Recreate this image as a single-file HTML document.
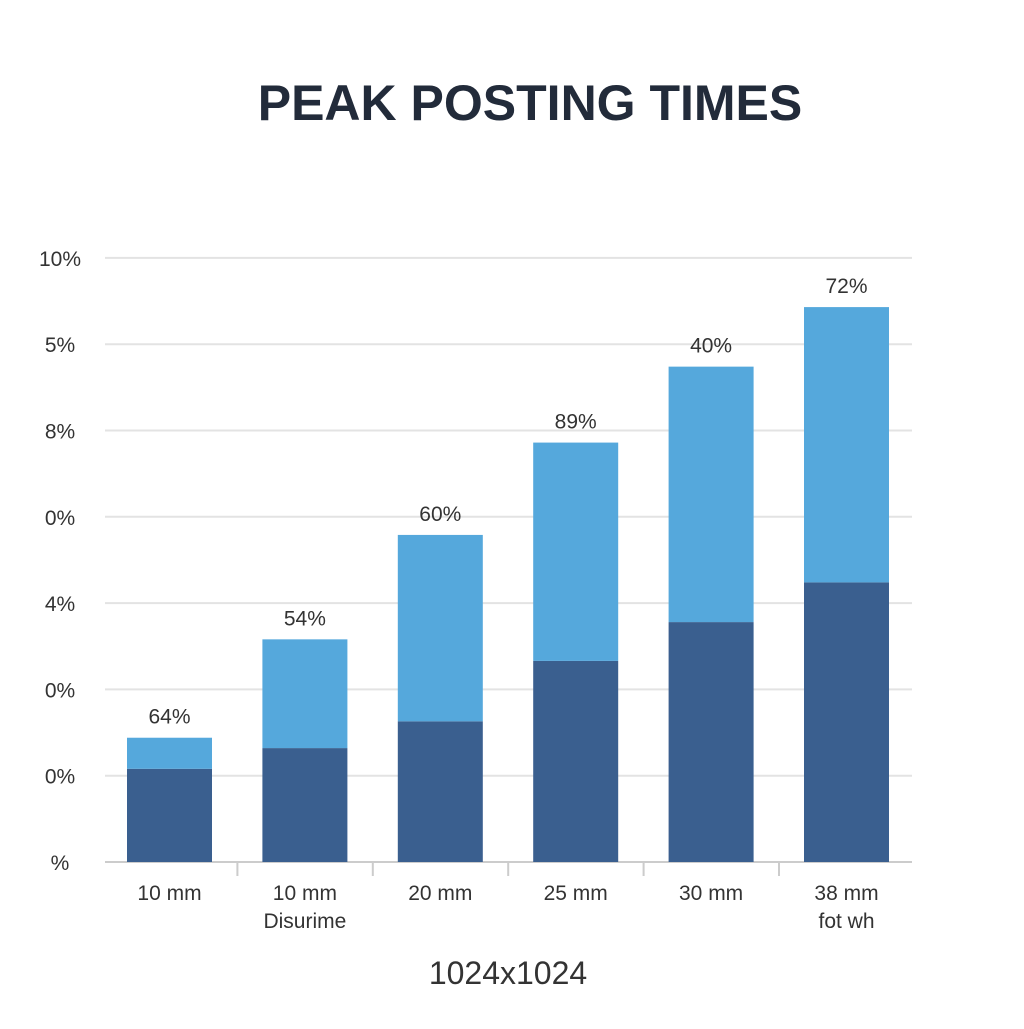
<!DOCTYPE html>
<html><head><meta charset="utf-8"><style>
body{margin:0;background:#fff;width:1024px;height:1024px;overflow:hidden;font-family:"Liberation Sans",sans-serif}
</style></head><body>
<svg width="1024" height="1024">
<text x="530" y="120" text-anchor="middle" font-size="50" font-weight="bold" fill="#222b3a">PEAK POSTING TIMES</text>
<g id="grid"></g><g id="bars"></g><g id="labels"></g>
<text x="508" y="984" text-anchor="middle" font-size="32" fill="#333">1024x1024</text>
</svg>
<script>
const categories=["10 mm","10 mm","20 mm","25 mm","30 mm","38 mm"];
const subLabels=["","Disurime","","","","fot wh"];
const bottomValues=[1.08,1.32,1.63,2.33,2.78,3.24];
const topValues=[0.36,1.26,2.16,2.53,2.96,3.19];
const valueLabels=["64%","54%","60%","89%","40%","72%"];
const tickLabels=["%","0%","0%","4%","0%","8%","5%","10%"];
const NS="http://www.w3.org/2000/svg";
const y0=862,step=86.3,x0=127,band=135.4,bw=85;
const y=v=>y0-v*step;
const xb=i=>x0+i*band;
function mk(tag,attrs,parent){const e=document.createElementNS(NS,tag);for(const k in attrs)e.setAttribute(k,attrs[k]);document.getElementById(parent).appendChild(e);return e;}
tickLabels.forEach((t,i)=>{
 const l=mk("line",{x1:105,x2:912,y1:y(i),y2:y(i),stroke:i==0?"#ccc":"#e3e3e3","stroke-width":2},"grid");
 
 
 const tx=mk("text",{x:60,y:y(i)+8,"text-anchor":"middle","font-size":21,fill:"#333"},"grid");
 tx.textContent=t;
 
 
});
categories.forEach((c,i)=>{
 const x=xb(i);
 const b=mk("rect",{x:x,y:y(bottomValues[i]),width:bw,height:bottomValues[i]*step,fill:"#3a5f8f"},"bars");
 
 
 const tot=bottomValues[i]+topValues[i];
 const t=mk("rect",{x:x,y:y(tot),width:bw,height:topValues[i]*step,fill:"#55a8dc"},"bars");
 
 
 const v=mk("text",{x:x+bw/2,y:y(tot)-14,"text-anchor":"middle","font-size":21,fill:"#333"},"labels");
 v.textContent=valueLabels[i];
 
 
 const cl=mk("text",{x:x+bw/2,y:900,"text-anchor":"middle","font-size":21,fill:"#333"},"labels");
 cl.textContent=c;
 
 
 if(subLabels[i]){const s=mk("text",{x:x+bw/2,y:928,"text-anchor":"middle","font-size":21,fill:"#333"},"labels");
 s.textContent=subLabels[i];
 
 }
 if(i>0){const tk=mk("line",{x1:x-25,x2:x-25,y1:y0,y2:y0+14,stroke:"#ccc","stroke-width":2},"grid");
 
 }
});
</script>
</body></html>
